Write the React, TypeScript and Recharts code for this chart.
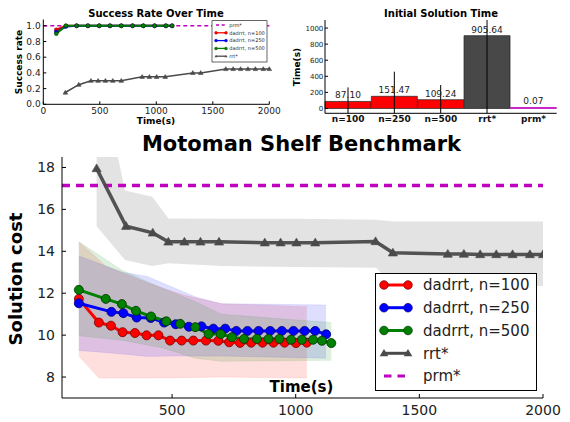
import React from 'react'
import {
  ComposedChart,
  LineChart,
  BarChart,
  Line,
  Area,
  Bar,
  Cell,
  ErrorBar,
  LabelList,
  XAxis,
  YAxis,
  ReferenceLine,
} from 'recharts'

const FONT = '"DejaVu Sans", sans-serif'

// ---- main chart: solution cost over time ----
const dadX100 = [123, 204, 253, 300, 350, 397, 445, 492, 539, 586, 637, 687, 731, 775, 820, 866, 910, 955, 1001, 1045]
const dadCost100 = [11.73, 10.6, 10.45, 10.14, 10.1, 9.99, 9.99, 9.74, 9.74, 9.74, 9.74, 9.73, 9.66, 9.63, 9.64, 9.64, 9.64, 9.64, 9.62, 9.64]
const dadX250 = [123, 255, 303, 357, 414, 468, 515, 568, 619, 667, 715, 760, 805, 850, 897, 944, 991, 1036, 1079, 1123]
const dadCost250 = [11.52, 11.11, 11.05, 10.84, 10.82, 10.6, 10.52, 10.4, 10.42, 10.31, 10.31, 10.2, 10.2, 10.2, 10.2, 10.2, 10.2, 10.2, 10.2, 10.04]
const dadX500 = [123, 232, 297, 354, 415, 477, 533, 594, 648, 697, 742, 791, 843, 890, 934, 981, 1025, 1070, 1106, 1144]
const dadCost500 = [12.16, 11.73, 11.48, 11.16, 10.89, 10.66, 10.54, 10.38, 10.05, 10.05, 9.9, 9.82, 9.82, 9.82, 9.82, 9.78, 9.78, 9.78, 9.73, 9.62]
const rrtX = [195, 314, 422, 485, 550, 615, 690, 875, 939, 1003, 1079, 1323, 1393, 1615, 1680, 1746, 1811, 1877, 1947, 2000]
const rrtCost = [17.95, 15.2, 14.88, 14.45, 14.45, 14.45, 14.45, 14.41, 14.41, 14.41, 14.41, 14.47, 13.93, 13.87, 13.87, 13.85, 13.85, 13.85, 13.85, 13.85]
const prmCost = 17.14

// shaded spread of each planner
const band100X = [123, 204, 230, 400, 550, 700, 1045]
const band100Low = [9.0, 7.95, 7.95, 7.95, 7.97, 8.0, 7.95]
const band100High = [14.46, 13.6, 13.3, 12.5, 11.9, 11.5, 11.36]
const band250X = [123, 300, 400, 500, 600, 700, 1123]
const band250Low = [9.27, 9.1, 8.98, 9.0, 9.0, 9.0, 8.9]
const band250High = [13.78, 13.0, 12.8, 12.3, 11.8, 11.5, 11.44]
const band500X = [123, 298, 460, 593, 700, 1144]
const band500Low = [9.97, 9.75, 9.4, 8.9, 8.75, 8.8]
const band500High = [14.46, 13.1, 12.24, 11.6, 11.0, 10.6]
const bandRrtX = [195, 263, 310, 420, 485, 700, 1000, 1325, 1395, 2000]
const bandRrtLow = [15.2, 14.24, 13.58, 13.3, 13.43, 13.3, 13.25, 13.22, 12.35, 12.35]
const bandRrtHigh = [19.5, 19.5, 16.9, 16.6, 15.57, 15.55, 15.55, 15.5, 15.42, 15.42]

const costTicks = [8, 10, 12, 14, 16, 18]
const timeTicks = [500, 1000, 1500, 2000]

// ---- success rate ----
const successX = [115, 200, 295, 395, 495, 590, 690, 790, 885, 985, 1085, 1140]
const success100 = [0.95, 1, 1, 1, 1, 1, 1, 1, 1, 1, 1, 1]
const success250 = [0.92, 0.99, 1, 1, 1, 1, 1, 1, 1, 1, 1, 1]
const success500 = [0.9, 1, 1, 1, 1, 1, 1, 1, 1, 1, 1, 1]
const successRrt = [0.15, 0.25, 0.3, 0.3, 0.3, 0.3, 0.3, 0.35, 0.35, 0.35, 0.35, 0.4, 0.4, 0.45, 0.45, 0.45, 0.45, 0.45, 0.45, 0.45]
const successTicks = [0, 0.2, 0.4, 0.6, 0.8, 1.0]
const successTimeTicks = [0, 500, 1000, 1500, 2000]

// ---- initial solution time ----
const methods = ['n=100', 'n=250', 'n=500', 'rrt*', 'prm*']
const initTime = [87.1, 151.47, 109.24, 905.64, 0.07]
const initTimeErr = [175, 306, 182, 1000, 0.05]
const barColors = ['#ff0000', '#ff0000', '#ff0000', '#484848', '#bf00bf']
const barTicks = [0, 200, 400, 600, 800, 1000]

const RED = '#ff0000'
const BLUE = '#0000ff'
const GREEN = '#008000'
const GRAY = '#4a4a4a'
const MAGENTA = '#bf00bf'

const pts = (xs: number[], ys: number[]) => xs.map((x, i) => ({ x, y: ys[i] }))
const band = (xs: number[], lo: number[], hi: number[]) => xs.map((x, i) => ({ x, band: [lo[i], hi[i]] }))

const triDot = (s: number, color: string) => (p: any) => {
  const { cx, cy, index } = p
  if (cx == null || cy == null) return <g key={`t-${index}`} />
  return (
    <polygon
      key={`t-${index}`}
      points={`${cx},${cy - s} ${cx - s},${cy + s * 0.7} ${cx + s},${cy + s * 0.7}`}
      fill={color}
      stroke={color}
      strokeWidth={0.6}
    />
  )
}

const dadSeries = [
  { name: 'dadrrt, n=100', color: RED, edge: '#700000', xs: dadX100, ys: dadCost100, s: success100 },
  { name: 'dadrrt, n=250', color: BLUE, edge: '#000070', xs: dadX250, ys: dadCost250, s: success250 },
  { name: 'dadrrt, n=500', color: GREEN, edge: '#003000', xs: dadX500, ys: dadCost500, s: success500 },
]

const bands = [
  { color: RED, op: 0.13, data: band(band100X, band100Low, band100High) },
  { color: BLUE, op: 0.13, data: band(band250X, band250Low, band250High) },
  { color: GREEN, op: 0.13, data: band(band500X, band500Low, band500High) },
]

const barData = methods.map((name, i) => ({ name, time: initTime[i], err: initTimeErr[i] }))

function SuccessChart() {
  const tick = { fontSize: 9, fill: '#222', fontFamily: FONT }
  return (
    <LineChart width={285} height={130} margin={{ top: 19.5, right: 15.7, bottom: 11.7, left: 13.3 }}>
      <XAxis type="number" dataKey="x" domain={[0, 2000]} ticks={successTimeTicks} height={14}
        tickSize={-3} tickMargin={6} stroke="#000" tick={tick} />
      <XAxis xAxisId="t" orientation="top" type="number" domain={[0, 2000]} ticks={successTimeTicks}
        height={0} tick={false} tickSize={-3} stroke="#000" />
      <YAxis type="number" domain={[0, 1.08]} allowDataOverflow ticks={successTicks} width={30}
        tickFormatter={(v: number) => v.toFixed(1)} tickSize={-3} tickMargin={5.6} stroke="#000" tick={tick} />
      <YAxis yAxisId="r" orientation="right" type="number" domain={[0, 1.08]} ticks={successTicks}
        width={0} tick={false} tickSize={-3} stroke="#000" />
      <ReferenceLine y={1} stroke={MAGENTA} strokeWidth={1.5} strokeDasharray="4 3" />
      <Line data={pts(rrtX, successRrt)} dataKey="y" stroke={GRAY} strokeWidth={1.5}
        dot={triDot(2.3, GRAY)} activeDot={false} isAnimationActive={false} />
      {dadSeries.map((d) => (
        <Line key={d.name} data={pts(successX, d.s)} dataKey="y" stroke={d.color} strokeWidth={2}
          dot={{ r: 2, fill: d.color, stroke: d.edge, strokeWidth: 0.4 }} activeDot={false} isAnimationActive={false} />
      ))}
    </LineChart>
  )
}

function InitTimeChart() {
  return (
    <BarChart className="init-time" width={290} height={130} data={barData}
      margin={{ top: 20, right: 13.3, bottom: 4.7, left: 20 }} barCategoryGap={0} barGap={0}>
      <XAxis dataKey="name" height={12} tickSize={0} tickMargin={2} stroke="#000"
        tick={{ fontSize: 9, fontWeight: 'bold', fill: '#111', fontFamily: FONT }} />
      <XAxis xAxisId="t" orientation="top" dataKey="name" height={0} tick={false} tickLine={false} stroke="#000" />
      <YAxis type="number" domain={[-60, 1100]} allowDataOverflow ticks={barTicks} width={25}
        tickSize={-3} tickMargin={4.7} stroke="#000" tick={{ fontSize: 7, fill: '#222', fontFamily: FONT }} />
      <YAxis yAxisId="r" orientation="right" type="number" domain={[-60, 1100]} ticks={barTicks}
        width={0} tick={false} tickSize={-3} stroke="#000" />
      <Bar dataKey="time" minPointSize={1} isAnimationActive={false}>
        {barData.map((d, i) => (
          <Cell key={d.name} fill={barColors[i]} stroke={i === 4 ? MAGENTA : '#222'} strokeWidth={0.7} />
        ))}
        <ErrorBar dataKey="err" width={0} stroke="#000" strokeWidth={1} />
        <LabelList dataKey="time" position="top" offset={3}
          formatter={(v: any) => Number(v).toFixed(2)}
          style={{ fontSize: 9, fill: '#222', fontFamily: FONT }} />
      </Bar>
    </BarChart>
  )
}

function MainChart() {
  const tick = { fontSize: 14, fill: '#222', fontFamily: FONT }
  return (
    <ComposedChart width={570} height={294} margin={{ top: 29, right: 27, bottom: 2, left: 18 }}>
      <XAxis type="number" dataKey="x" domain={[55, 2000]} allowDataOverflow ticks={timeTicks} height={22}
        tickSize={-4} tickMargin={11} stroke="#000" tick={tick} />
      <XAxis xAxisId="t" orientation="top" type="number" domain={[55, 2000]} allowDataOverflow ticks={timeTicks}
        height={0} tick={false} tickSize={-4} stroke="#000" />
      <YAxis type="number" domain={[7, 18.5]} allowDataOverflow ticks={costTicks} width={44}
        tickSize={-4} tickMargin={11} stroke="#000" tick={tick} />
      <YAxis yAxisId="r" orientation="right" type="number" domain={[7, 18.5]} allowDataOverflow ticks={costTicks}
        width={0} tick={false} tickSize={-4} stroke="#000" />
      <Area data={band(bandRrtX, bandRrtLow, bandRrtHigh)} dataKey="band" type="linear" stroke="none"
        fill="#444" fillOpacity={0.15} dot={false} activeDot={false} isAnimationActive={false} />
      {bands.map((b) => (
        <Area key={b.color} data={b.data} dataKey="band" type="linear" stroke={b.color} strokeOpacity={0.08}
          fill={b.color} fillOpacity={b.op} dot={false} activeDot={false} isAnimationActive={false} />
      ))}
      <ReferenceLine y={prmCost} stroke={MAGENTA} strokeWidth={3.5} strokeDasharray="8 6" />
      <Line data={pts(rrtX, rrtCost)} dataKey="y" stroke={GRAY} strokeWidth={3.5} strokeOpacity={0.95}
        dot={triDot(4.6, GRAY)} activeDot={false} isAnimationActive={false} />
      {dadSeries.map((d) => (
        <Line key={d.name} data={pts(d.xs, d.ys)} dataKey="y" stroke={d.color} strokeWidth={3}
          dot={{ r: 4.5, fill: d.color, stroke: d.edge, strokeWidth: 0.8 }} activeDot={false} isAnimationActive={false} />
      ))}
    </ComposedChart>
  )
}

const legendEntries = [
  ...dadSeries.map((d) => ({ name: d.name, color: d.color, edge: d.edge, kind: 'dot' })),
  { name: 'rrt*', color: GRAY, edge: GRAY, kind: 'tri' },
  { name: 'prm*', color: MAGENTA, edge: MAGENTA, kind: 'dash' },
]
const smallLegendEntries = [legendEntries[4], legendEntries[0], legendEntries[1], legendEntries[2], legendEntries[3]]

function Marker({ kind, x, y, color, edge, s }: any) {
  if (kind === 'dot') return <circle cx={x} cy={y} r={s} fill={color} stroke={edge} strokeWidth={s / 6} />
  if (kind === 'tri')
    return <polygon points={`${x},${y - s} ${x - s},${y + s * 0.7} ${x + s},${y + s * 0.7}`} fill={color} />
  return null
}

function LegendBox({ entries, x, y, w, h, rowY, lx1, lx2, tx, fs, s, lw }: any) {
  return (
    <g>
      <rect x={x} y={y} width={w} height={h} fill="#fff" stroke="#000" strokeWidth={s > 3 ? 1 : 0.6} />
      {entries.map((e: any, i: number) => (
        <g key={e.name}>
          <line x1={lx1} x2={lx2} y1={rowY[i]} y2={rowY[i]} stroke={e.color} strokeWidth={lw}
            strokeDasharray={e.kind === 'dash' ? `${(lx2 - lx1) / 3.2} ${(lx2 - lx1) / 4}` : undefined} />
          <Marker kind={e.kind} x={lx1} y={rowY[i]} color={e.color} edge={e.edge} s={s} />
          <Marker kind={e.kind} x={lx2} y={rowY[i]} color={e.color} edge={e.edge} s={s} />
          <text x={tx} y={rowY[i] + fs * 0.36} fontSize={fs} fill="#222" fontFamily={FONT}>{e.name}</text>
        </g>
      ))}
    </g>
  )
}

export default function App() {
  return (
    <div style={{ position: 'absolute', left: 0, top: 0, width: 570, height: 422, background: '#fff', fontFamily: FONT }}>
      <style>{`.init-time .recharts-errorBars, .init-time .recharts-errorBar { clip-path: url(#barPlotClip); }`}</style>
      <div style={{ position: 'absolute', left: 0, top: 0 }}>
        <SuccessChart />
      </div>
      <div style={{ position: 'absolute', left: 280, top: 0 }}>
        <InitTimeChart />
      </div>
      <div style={{ position: 'absolute', left: 0, top: 128 }}>
        <MainChart />
      </div>
      <svg width={570} height={422} style={{ position: 'absolute', left: 0, top: 0, pointerEvents: 'none' }}
        fontFamily={FONT}>
        <defs>
          <clipPath id="barPlotClip" clipPathUnits="userSpaceOnUse">
            <rect x={45} y={20} width={231.7} height={93.3} />
          </clipPath>
        </defs>
        <text x={156} y={17} fontSize={10} fontWeight="bold" textAnchor="middle">Success Rate Over Time</text>
        <text x={156} y={123.5} fontSize={9} fontWeight="bold" textAnchor="middle">Time(s)</text>
        <text transform="translate(21.5,62) rotate(-90)" fontSize={9} fontWeight="bold" textAnchor="middle">Success rate</text>
        <text x={441} y={17} fontSize={10} fontWeight="bold" textAnchor="middle">Initial Solution Time</text>
        <text transform="translate(300,67) rotate(-90)" fontSize={9} fontWeight="bold" textAnchor="middle">Time(s)</text>
        <text x={301.5} y={151} fontSize={21} fontWeight="bold" textAnchor="middle">Motoman Shelf Benchmark</text>
        <text transform="translate(22,279) rotate(-90)" fontSize={18} fontWeight="bold" textAnchor="middle">Solution cost</text>
        <text x={301.5} y={392} fontSize={15} fontWeight="bold" textAnchor="middle">Time(s)</text>
        <LegendBox entries={legendEntries} x={375.5} y={273.5} w={161} h={117}
          rowY={[285, 307.7, 330.5, 353.3, 376]} lx1={384} lx2={408} tx={423} fs={15} s={4.3} lw={3} />
        <LegendBox entries={smallLegendEntries} x={212} y={20.7} w={55} h={41.3}
          rowY={[25, 32.8, 40.6, 48.4, 56.2]} lx1={216} lx2={226} tx={229.3} fs={5} s={1.5} lw={1.3} />
      </svg>
    </div>
  )
}
